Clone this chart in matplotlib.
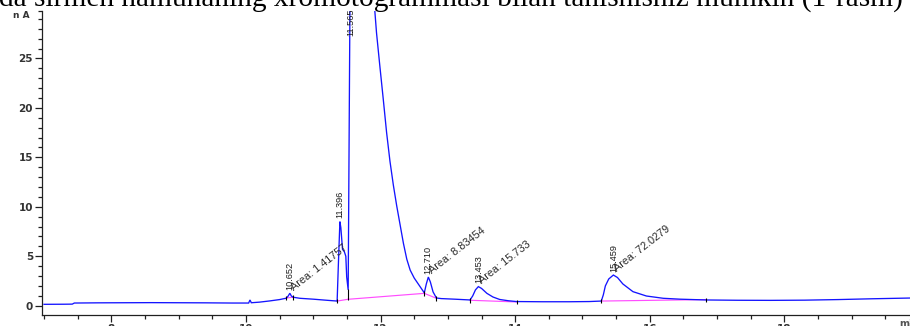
import matplotlib
matplotlib.use("Agg")
import matplotlib.pyplot as plt
from matplotlib import font_manager
from matplotlib.ticker import FixedLocator, MultipleLocator

# Detector trace: retention time (min) and signal (nA)
time_min = [
    7.00, 7.30, 7.42, 7.45, 7.80, 8.20, 8.60, 9.00, 9.40, 9.80,
    10.04, 10.06, 10.08, 10.20, 10.35, 10.50, 10.60, 10.63, 10.652, 10.675,
    10.70, 10.80, 11.00, 11.20, 11.355, 11.375, 11.396, 11.41, 11.435, 11.46,
    11.484, 11.497, 11.519, 11.565, 11.62, 11.75, 11.87, 11.915, 11.94, 11.99,
    12.04, 12.09, 12.14, 12.19, 12.24, 12.29, 12.34, 12.39, 12.44, 12.50,
    12.56, 12.62, 12.65, 12.68, 12.71, 12.74, 12.78, 12.83, 12.90, 13.10,
    13.33, 13.37, 13.41, 13.453, 13.50, 13.58, 13.67, 13.77, 13.90, 14.02,
    14.40, 14.80, 15.10, 15.28, 15.31, 15.34, 15.39, 15.459, 15.52, 15.60,
    15.75, 15.95, 16.20, 16.45, 16.84, 17.30, 17.80, 18.30, 18.80, 19.30,
    19.90,
]
signal_na = [
    0.14, 0.15, 0.16, 0.27, 0.29, 0.30, 0.31, 0.30, 0.29, 0.27,
    0.27, 0.58, 0.30, 0.36, 0.48, 0.62, 0.76, 1.00, 1.26, 0.98,
    0.86, 0.75, 0.66, 0.55, 0.47, 4.50, 8.50, 7.90, 5.70, 5.50,
    5.00, 2.90, 1.60, 52.0, 38.0, 34.0, 42.0, 29.8, 27.6, 24.2,
    20.9, 17.5, 14.6, 12.2, 10.1, 8.2, 6.3, 4.7, 3.6, 2.8,
    2.2, 1.6, 1.3, 2.2, 2.9, 2.4, 1.4, 0.78, 0.72, 0.66,
    0.58, 1.00, 1.60, 1.93, 1.75, 1.25, 0.88, 0.63, 0.50, 0.42,
    0.40, 0.40, 0.42, 0.47, 1.10, 2.00, 2.70, 3.10, 2.85, 2.20,
    1.42, 0.98, 0.75, 0.66, 0.58, 0.55, 0.54, 0.56, 0.62, 0.70,
    0.78,
]

# Peak retention times and integrated areas
peak_rt = [10.652, 11.396, 11.565, 12.710, 13.453, 15.459]
area_rt = [10.652, 12.710, 13.453, 15.459]
area_val = [1.41757, 8.83454, 15.733, 72.0279]

# Integration baselines (start/end time and level)
base_t0 = [10.60, 11.355, 11.519, 12.65, 13.33, 15.28]
base_v0 = [0.78, 0.47, 0.65, 1.25, 0.55, 0.47]
base_t1 = [10.70, 11.519, 12.65, 12.83, 14.02, 16.84]
base_v1 = [0.86, 0.65, 1.25, 0.75, 0.38, 0.62]

# Peak start/end event marks
event_t = [10.60, 10.70, 11.355, 11.519, 12.65, 12.83, 13.33, 14.02, 15.28, 16.84]
event_lo = [0.55, 0.62, 0.25, 0.55, 1.00, 0.50, 0.32, 0.15, 0.25, 0.35]
event_hi = [0.98, 1.08, 0.70, 1.65, 1.50, 1.00, 0.78, 0.62, 0.70, 0.82]

x_ticks = [8, 10, 12, 14, 16, 18]
y_ticks = [0, 5, 10, 15, 20, 25]
x_lim = (6.97, 20.0)
y_lim = (-0.94, 29.8)

caption = "da sirmeh namunaning xromotogrammasi bilan tanishishiz mumkin (1-rasm)"


def has_font(name):
    try:
        font_manager.findfont(font_manager.FontProperties(family=name),
                              fallback_to_default=False)
        return True
    except ValueError:
        return False


sans = "Liberation Sans" if has_font("Liberation Sans") else "DejaVu Sans"

W, H = 910, 326
fig = plt.figure(figsize=(W / 100, H / 100), dpi=100)
ax = fig.add_axes([42 / W, 11 / H, 877 / W, 304 / H])
ax.set_xlim(*x_lim)
ax.set_ylim(*y_lim)

blue = "#1414ff"
magenta = "#ff4dff"

ax.plot(time_min, signal_na, color=blue, lw=0.95, solid_joinstyle="miter", zorder=3)
for t0, v0, t1, v1 in zip(base_t0, base_v0, base_t1, base_v1):
    ax.plot([t0, t1], [v0, v1], color=magenta, lw=0.85, zorder=2)
ax.vlines(event_t, event_lo, event_hi, color="black", lw=0.8, zorder=4)

# Retention time labels
rt_font = dict(family=sans, fontsize=6.6)
for rt in peak_rt:
    apex = signal_na[time_min.index(rt)]
    if apex > y_lim[1]:
        ax.annotate(f"{rt:.3f}", xy=(rt, y_lim[1]), xytext=(0, 1.5),
                    textcoords="offset points", rotation=90, ha="center", va="top",
                    color="#1c1c1c", annotation_clip=False, **rt_font)
    else:
        ax.annotate(f"{rt:.3f}", xy=(rt, apex), xytext=(0, 2.5),
                    textcoords="offset points", rotation=90, ha="center", va="bottom",
                    color="#1c1c1c", **rt_font)

# Area labels
for rt, a in zip(area_rt, area_val):
    apex = signal_na[time_min.index(rt)]
    ax.annotate(f"Area: {a:g}", xy=(rt, apex), xytext=(3.6, 0.8),
                textcoords="offset points", rotation=38, rotation_mode="anchor",
                ha="left", va="bottom", color="#2a2a2a", family=sans, fontsize=7.8)

# Axes styling
for side in ("top", "right"):
    ax.spines[side].set_visible(False)
for side in ("left", "bottom"):
    ax.spines[side].set_color("#202020")
    ax.spines[side].set_linewidth(0.9)

ax.xaxis.set_major_locator(FixedLocator(x_ticks))
ax.xaxis.set_minor_locator(MultipleLocator(0.5))
ax.yaxis.set_major_locator(FixedLocator(y_ticks))
ax.yaxis.set_minor_locator(FixedLocator(list(range(0, 30)) + [y_lim[1]]))
ax.tick_params(axis="both", which="major", length=5, width=0.9, color="#202020",
               labelsize=7.5, labelcolor="#333333", pad=1.5)
ax.tick_params(axis="both", which="minor", length=3, width=0.9, color="#202020")
for lab in ax.get_xticklabels() + ax.get_yticklabels():
    lab.set_fontweight("bold")

fig.text(30 / W, 1 - 15 / H, "n A", ha="right", va="center", fontsize=6.5,
         fontweight="bold", color="#333333")
fig.text(899 / W, 1 - 324 / H, "min", ha="left", va="center", fontsize=7,
         fontweight="bold", color="#555555")

# Caption line running across the top
cap = fig.text(-1 / W, 1 - 6 / H, caption, family="Liberation Serif",
               fontsize=20, ha="left", va="baseline", color="black")
fig.canvas.draw()
w = cap.get_window_extent().width
cap.set_fontsize(20 * 904 / w)

fig.savefig("out.png", dpi=100)
